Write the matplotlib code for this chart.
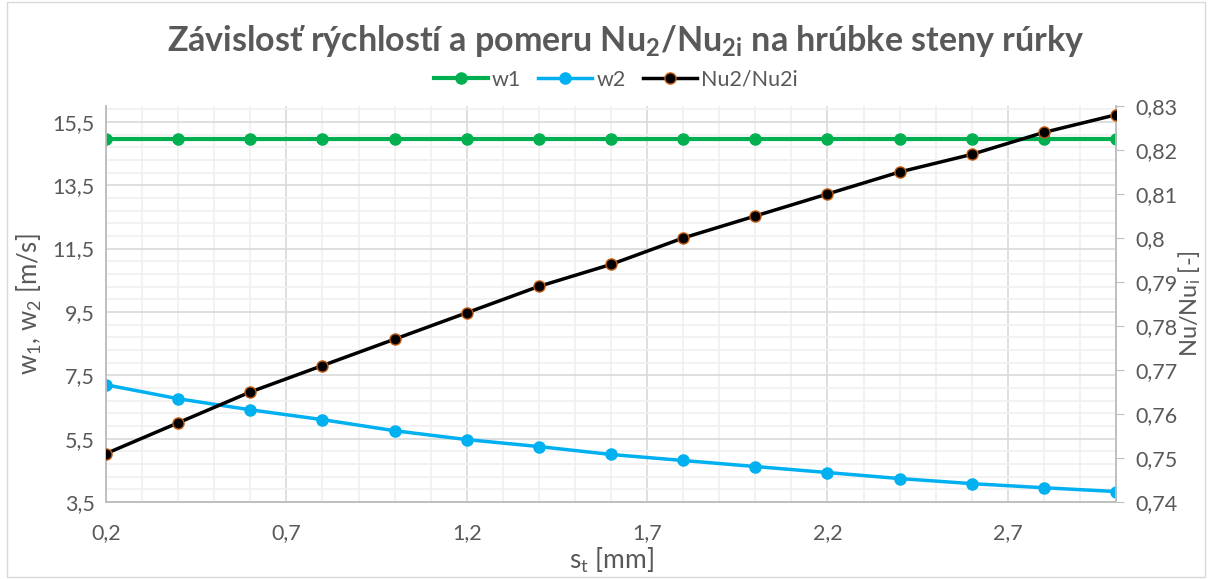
import matplotlib
matplotlib.use("Agg")
import matplotlib.pyplot as plt
from matplotlib.ticker import MultipleLocator, FuncFormatter
from matplotlib.patches import Rectangle

plt.rcParams['font.family'] = ['Lato', 'DejaVu Sans']
plt.rcParams['mathtext.fontset'] = 'custom'
plt.rcParams['mathtext.rm'] = 'Lato'
plt.rcParams['mathtext.it'] = 'Lato'
plt.rcParams['mathtext.bf'] = 'Lato:bold'

# data
s_t = [0.2, 0.4, 0.6, 0.8, 1.0, 1.2, 1.4, 1.6, 1.8, 2.0, 2.2, 2.4, 2.6, 2.8, 3.0]
w1 = [14.95] * 15
w2 = [7.20, 6.76, 6.41, 6.10, 5.75, 5.47, 5.25, 5.00, 4.81, 4.62, 4.43, 4.24, 4.08, 3.95, 3.83]
nu_ratio = [0.751, 0.758, 0.765, 0.771, 0.777, 0.783, 0.789, 0.794, 0.800,
            0.805, 0.810, 0.815, 0.819, 0.824, 0.828]

grey = '#595959'
green = '#00B050'
blue = '#00B0F0'


def comma(v, pos):
    return '{:g}'.format(round(v, 4)).replace('.', ',')


fig = plt.figure(figsize=(12.1, 5.79), dpi=100)
fig.patches.append(Rectangle((0.006, 0.003), 0.99, 0.994, transform=fig.transFigure,
                             fill=False, edgecolor='#D9D9D9', linewidth=1))
ax = fig.add_axes([106 / 1210, 1 - 502 / 579, (1116 - 106) / 1210, (502 - 106) / 579])
ax2 = ax.twinx()

ax.set_xlim(0.2, 3.0)
ax.set_ylim(3.5, 16)
ax2.set_ylim(0.74, 0.83)

ax.xaxis.set_minor_locator(MultipleLocator(0.1))
ax.set_xticks([0.2, 0.7, 1.2, 1.7, 2.2, 2.7])
ax.set_yticks([3.5, 5.5, 7.5, 9.5, 11.5, 13.5, 15.5])
ax.set_yticks([3.5 + 0.4 * i for i in range(32)], minor=True)
ax2.yaxis.set_major_locator(MultipleLocator(0.01))

ax.xaxis.set_major_formatter(FuncFormatter(comma))
ax.yaxis.set_major_formatter(FuncFormatter(comma))
ax2.yaxis.set_major_formatter(FuncFormatter(comma))

ax.grid(which='major', color='#D9D9D9', linewidth=1.2)
ax.grid(which='minor', color='#F0F0F0', linewidth=1.2)
ax.set_axisbelow(True)

for a in (ax, ax2):
    a.spines['top'].set_visible(False)
    for side in ('left', 'right', 'bottom'):
        a.spines[side].set_color('#BFBFBF')
        a.spines[side].set_linewidth(1.2)

ax.tick_params(axis='both', which='both', length=0, labelsize=15.5, labelcolor=grey, pad=8)
ax.tick_params(axis='x', pad=15)
ax2.tick_params(axis='y', which='major', length=6, color='#BFBFBF', labelsize=15.5,
                labelcolor=grey, pad=8)

l1, = ax.plot(s_t, w1, color=green, linewidth=3, marker='o', markersize=8, label='w1', zorder=3)
l2, = ax.plot(s_t, w2, color=blue, linewidth=2.5, marker='o', markersize=8, label='w2', zorder=3)
l3, = ax2.plot(s_t, nu_ratio, color='black', linewidth=2.5, marker='o', markersize=8,
               markeredgecolor='#C55A11', markeredgewidth=1, label='Nu2/Nu2i', zorder=3)

ax.set_xlabel('s$_t$ [mm]', fontsize=19, color=grey, labelpad=2)
ax.set_ylabel('w$_1$, w$_2$ [m/s]', fontsize=18.5, color=grey, labelpad=6)
ax2.set_ylabel('Nu/Nu$_i$ [-]', fontsize=17, color=grey, va='center')
ax2.yaxis.set_label_coords(1.073, 0.5)

fig.text(0.517, 0.93, r'Závislosť rýchlostí a pomeru Nu$_\mathbf{2}$/Nu$_\mathbf{2i}$ na hrúbke steny rúrky',
         ha='center', va='center', fontsize=24.5, fontweight='bold', color=grey)

fig.legend(handles=[l1, l2, l3], loc='center', bbox_to_anchor=(0.509, 0.862), ncol=3,
           frameon=False, fontsize=15.5, labelcolor=grey, handlelength=2.5, columnspacing=0.8,
           handletextpad=0.2)

fig.savefig('out.png', dpi=100)
